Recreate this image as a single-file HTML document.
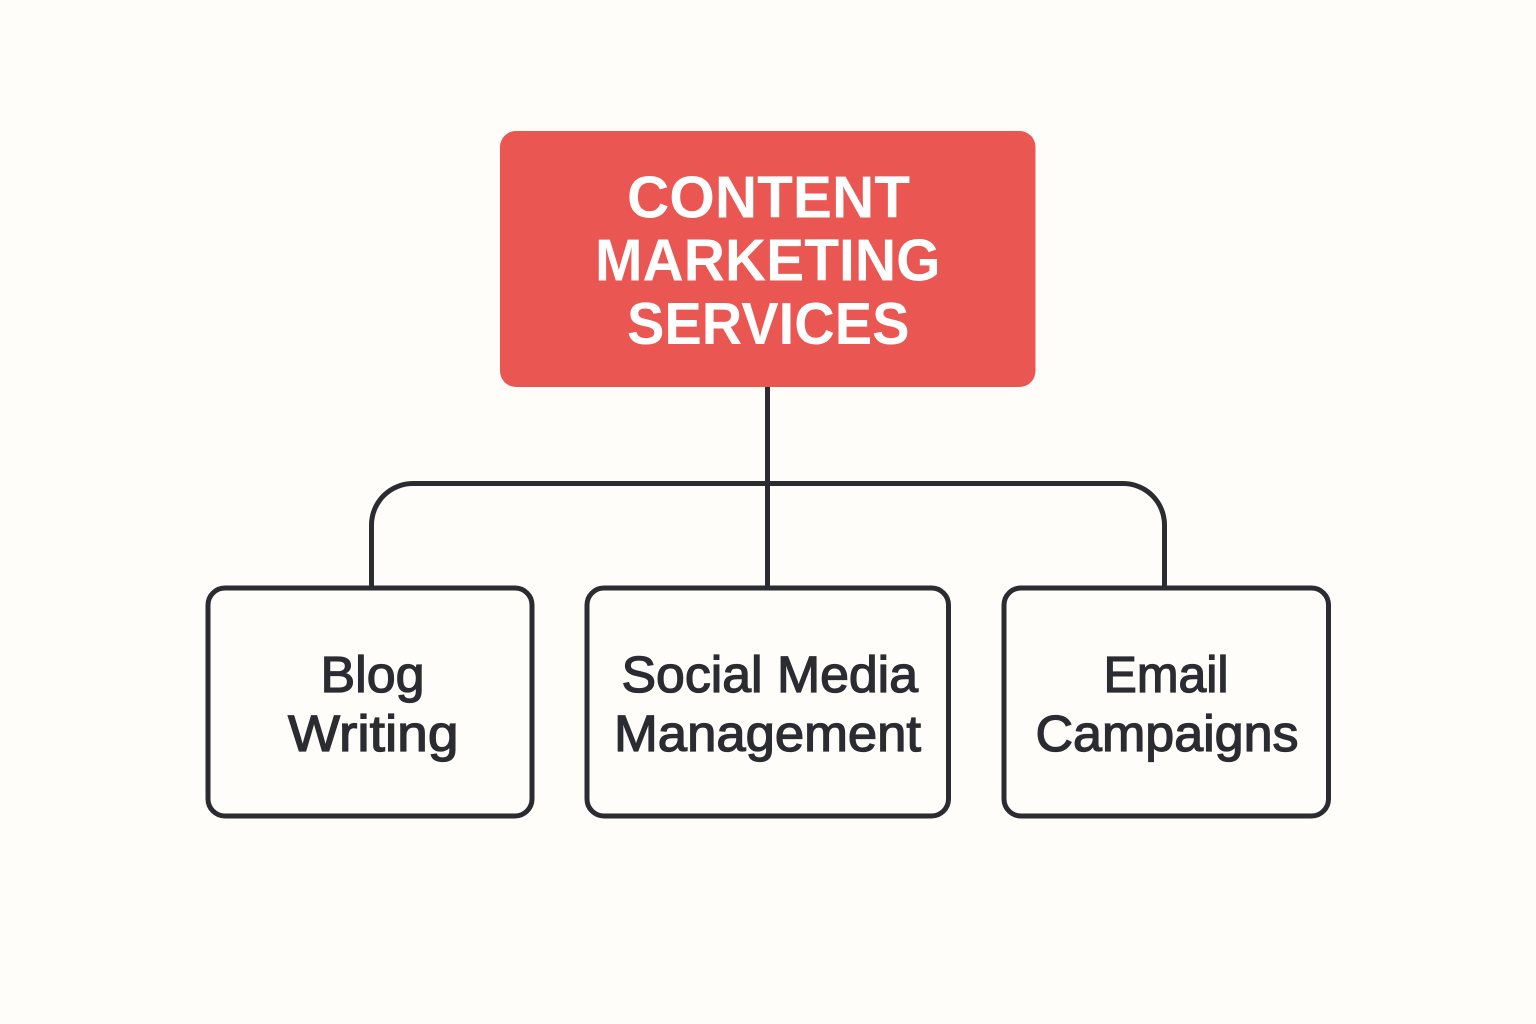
<!DOCTYPE html>
<html lang="en">
<head>
<meta charset="utf-8">
<title>Content Marketing Services</title>
<style>
html,body{margin:0;padding:0;width:1536px;height:1024px;overflow:hidden;background:#fffdfa}
svg{display:block}
text{font-family:"Liberation Sans",sans-serif}
.t{font-size:59px;font-weight:700;fill:#fff}
.n{font-size:51px;font-weight:400;fill:#2a2c31;stroke:#2a2c31;stroke-width:1.3px}
</style>
</head>
<body>
<svg width="1536" height="1024" viewBox="0 0 1536 1024" xmlns="http://www.w3.org/2000/svg">
<rect width="1536" height="1024" fill="#fffdfa"/>
<g fill="none" stroke="#2a2c31" stroke-width="5">
<path d="M767.5 387V586"/>
<path d="M371.5 586V525A41.5 41.5 0 0 1 413 483.5H1123A41.5 41.5 0 0 1 1164.5 525V586"/>
<rect x="208" y="588" width="324" height="228" rx="17" fill="#fffdfa"/>
<rect x="587" y="588" width="361.5" height="228" rx="17" fill="#fffdfa"/>
<rect x="1004" y="588" width="324.5" height="228" rx="17" fill="#fffdfa"/>
</g>
<rect x="500" y="131" width="535.5" height="256" rx="16" fill="#ea5651"/>
<text class="t" x="627" y="217.5" textLength="283" lengthAdjust="spacingAndGlyphs">CONTENT</text>
<text class="t" x="595" y="280.5" textLength="345.5" lengthAdjust="spacingAndGlyphs">MARKETING</text>
<text class="t" x="627" y="344" textLength="282.5" lengthAdjust="spacingAndGlyphs">SERVICES</text>
<text class="n" x="320.5" y="692" textLength="104" lengthAdjust="spacingAndGlyphs">Blog</text>
<text class="n" x="288" y="751" textLength="170.5" lengthAdjust="spacingAndGlyphs">Writing</text>
<text class="n" x="621.5" y="692" textLength="296.5" lengthAdjust="spacingAndGlyphs">Social Media</text>
<text class="n" x="614" y="751" textLength="307" lengthAdjust="spacingAndGlyphs">Management</text>
<text class="n" x="1103.5" y="692" textLength="125" lengthAdjust="spacingAndGlyphs">Email</text>
<text class="n" x="1035.5" y="751" textLength="263" lengthAdjust="spacingAndGlyphs">Campaigns</text>
</svg>
</body>
</html>
